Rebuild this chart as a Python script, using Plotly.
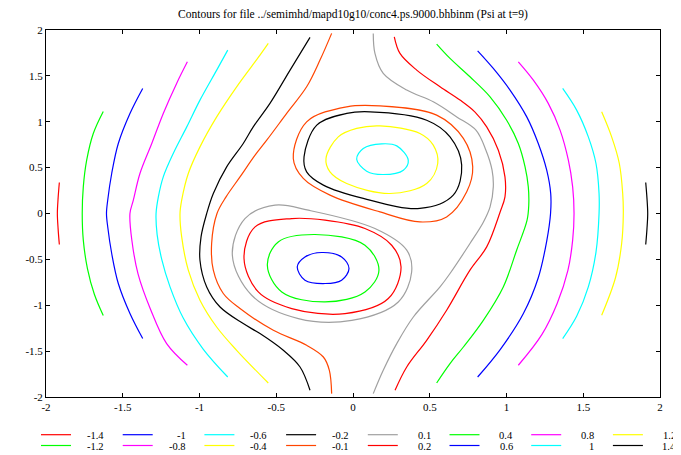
import plotly.graph_objects as go

TITLE = "Contours for file ../semimhd/mapd10g10/conc4.ps.9000.bhbinm (Psi at t=9)"
LEVELS = [-1.4, -1.2, -1, -0.8, -0.6, -0.4, -0.2, -0.1, 0.1, 0.2, 0.4, 0.6, 0.8, 1, 1.2, 1.4]
LABELS = ["-1.4", "-1.2", "-1", "-0.8", "-0.6", "-0.4", "-0.2", "-0.1",
          "0.1", "0.2", "0.4", "0.6", "0.8", "1", "1.2", "1.4"]
COLORS = ["#ff0000", "#00ff00", "#0000ff", "#ff00ff", "#00ffff", "#ffff00", "#000000", "#ff4500",
          "#a0a0a0", "#ff0000", "#00ff00", "#0000ff", "#ff00ff", "#00ffff", "#ffff00", "#000000"]
TICKS = [-2, -1.5, -1, -0.5, 0, 0.5, 1, 1.5, 2]
TICK_TEXT = ["-2", "-1.5", "-1", "-0.5", "0", "0.5", "1", "1.5", "2"]

# ---- contour lines (x, y in data units) ----
m14_x = [-1.913, -1.921, -1.926, -1.921, -1.913]
m14_y = [0.338, 0.17, 0.0, -0.17, -0.338]

m12_x = [-1.627, -1.692, -1.735, -1.757, -1.764, -1.757, -1.730, -1.685, -1.627]
m12_y = [1.112, 0.872, 0.581, 0.290, 0.0, -0.290, -0.600, -0.880, -1.112]

m10_x = [-1.370, -1.453, -1.529, -1.572, -1.598, -1.606, -1.598, -1.572, -1.529, -1.453, -1.370]
m10_y = [1.363, 1.090, 0.763, 0.436, 0.145, 0.0, -0.145, -0.436, -0.763, -1.090, -1.363]

m08_x = [-1.079, -1.149, -1.236, -1.311, -1.388, -1.431, -1.453, -1.440, -1.400, -1.320, -1.214, -1.079]
m08_y = [1.653, 1.418, 1.091, 0.763, 0.436, 0.145, 0.0, -0.300, -0.660, -1.040, -1.418, -1.654]

m06_x = [-0.816, -0.888, -0.997, -1.083, -1.171, -1.236, -1.268, -1.283, -1.276, -1.246, -1.192, -1.106, -0.975, -0.816]
m06_y = [1.781, 1.563, 1.236, 0.944, 0.654, 0.399, 0.181, 0.0, -0.230, -0.500, -0.800, -1.140, -1.480, -1.782]
m06_loop_x = [0.024, 0.067, 0.187, 0.285, 0.360, 0.328, 0.197, 0.089, 0.024]
m06_loop_y = [0.592, 0.709, 0.759, 0.737, 0.581, 0.472, 0.425, 0.461, 0.592]

m04_x = [-0.552, -0.606, -0.758, -0.888, -0.997, -1.073, -1.116, -1.127, -1.116, -1.073, -0.997, -0.888, -0.758, -0.552]
m04_y = [1.854, 1.726, 1.381, 1.053, 0.726, 0.436, 0.145, 0.0, -0.255, -0.618, -0.945, -1.237, -1.491, -1.847]
m04_loop_x = [-0.176, -0.096, 0.024, 0.176, 0.436, 0.523, 0.552, 0.480, 0.241, -0.041, -0.150, -0.176]
m04_loop_y = [0.600, 0.835, 0.927, 0.955, 0.872, 0.745, 0.545, 0.327, 0.218, 0.327, 0.454, 0.600]

m02_x = [-0.280, -0.410, -0.541, -0.650, -0.715, -0.823, -0.910, -0.953, -0.990, -0.997, -0.953, -0.866, -0.715, -0.606, -0.454, -0.345, -0.280]
m02_y = [1.919, 1.563, 1.200, 0.944, 0.763, 0.508, 0.218, 0.0, -0.255, -0.509, -0.800, -1.019, -1.200, -1.309, -1.491, -1.673, -1.927]
m02_loop_x = [-0.319, -0.236, -0.041, 0.111, 0.480, 0.632, 0.708, 0.653, 0.436, 0.067, -0.193, -0.302, -0.319]
m02_loop_y = [0.617, 0.963, 1.091, 1.108, 1.017, 0.835, 0.527, 0.200, 0.055, 0.164, 0.309, 0.454, 0.617]

m01_x = [-0.139, -0.215, -0.302, -0.432, -0.562, -0.638, -0.736, -0.827, -0.886, -0.921, -0.910, -0.845, -0.736, -0.519, -0.302, -0.193, -0.154, -0.139]
m01_y = [1.963, 1.672, 1.381, 1.091, 0.799, 0.636, 0.399, 0.181, 0.0, -0.327, -0.618, -0.872, -1.036, -1.273, -1.436, -1.564, -1.709, -1.963]
m01_loop_x = [-0.389, -0.302, -0.041, 0.176, 0.545, 0.719, 0.780, 0.741, 0.610, 0.436, 0.176, -0.150, -0.324, -0.389]
m01_loop_y = [0.600, 0.999, 1.163, 1.173, 1.072, 0.818, 0.508, 0.236, -0.037, -0.092, 0.017, 0.200, 0.382, 0.600]

p01_x = [0.132, 0.143, 0.197, 0.350, 0.523, 0.676, 0.801, 0.866, 0.906, 0.914, 0.893, 0.849, 0.762, 0.632, 0.567, 0.393, 0.285, 0.197, 0.132]
p01_y = [1.963, 1.745, 1.527, 1.345, 1.217, 1.053, 0.908, 0.690, 0.472, 0.290, 0.072, -0.095, -0.327, -0.654, -0.800, -1.128, -1.418, -1.709, -1.963]
p01_loop_x = [-0.786, -0.704, -0.508, -0.291, 0.143, 0.350, 0.382, 0.295, -0.008, -0.356, -0.660, -0.786]
p01_loop_y = [-0.455, -0.055, 0.091, 0.036, -0.164, -0.400, -0.637, -0.964, -1.164, -1.145, -0.891, -0.455]

p02_x = [0.269, 0.306, 0.415, 0.567, 0.697, 0.795, 0.871, 0.947, 0.990, 0.990, 0.958, 0.871, 0.762, 0.610, 0.480, 0.350, 0.274]
p02_y = [1.926, 1.745, 1.563, 1.381, 1.236, 1.105, 0.944, 0.690, 0.399, 0.181, 0.014, -0.364, -0.618, -1.054, -1.382, -1.673, -1.927]
p02_loop_x = [-0.710, -0.638, -0.399, -0.182, 0.078, 0.252, 0.313, 0.230, -0.052, -0.399, -0.617, -0.710]
p02_loop_y = [-0.491, -0.146, -0.055, -0.073, -0.164, -0.346, -0.582, -0.927, -1.091, -1.036, -0.855, -0.491]

p04_x = [0.545, 0.632, 0.762, 0.893, 1.001, 1.077, 1.121, 1.142, 1.145, 1.134, 1.066, 0.979, 0.849, 0.719, 0.632, 0.545]
p04_y = [1.846, 1.690, 1.490, 1.272, 1.017, 0.763, 0.508, 0.290, 0.091, -0.073, -0.400, -0.800, -1.164, -1.455, -1.636, -1.847]
p04_loop_x = [-0.558, -0.487, -0.248, 0.078, 0.169, 0.078, -0.182, -0.464, -0.558]
p04_loop_y = [-0.564, -0.310, -0.229, -0.346, -0.618, -0.855, -0.964, -0.855, -0.564]

p06_x = [0.812, 0.914, 1.023, 1.132, 1.207, 1.262, 1.288, 1.287, 1.262, 1.207, 1.110, 0.960, 0.812]
p06_y = [1.773, 1.581, 1.345, 1.053, 0.763, 0.472, 0.218, 0.0, -0.300, -0.700, -1.090, -1.480, -1.782]
p06_loop_x = [-0.363, -0.313, -0.204, -0.074, -0.026, -0.074, -0.182, -0.313, -0.363]
p06_loop_y = [-0.582, -0.473, -0.425, -0.473, -0.600, -0.727, -0.763, -0.727, -0.582]

p08_x = [1.077, 1.175, 1.272, 1.349, 1.403, 1.431, 1.440, 1.431, 1.400, 1.330, 1.230, 1.077]
p08_y = [1.653, 1.453, 1.200, 0.909, 0.581, 0.290, 0.0, -0.290, -0.620, -0.980, -1.320, -1.654]

p10_x = [1.366, 1.457, 1.533, 1.583, 1.603, 1.603, 1.583, 1.533, 1.457, 1.366]
p10_y = [1.363, 1.127, 0.835, 0.545, 0.218, 0.0, -0.420, -0.800, -1.120, -1.363]

p12_x = [1.620, 1.685, 1.735, 1.757, 1.761, 1.750, 1.710, 1.620]
p12_y = [1.108, 0.835, 0.545, 0.218, 0.0, -0.330, -0.700, -1.109]

p14_x = [1.907, 1.915, 1.920, 1.915, 1.907]
p14_y = [0.338, 0.17, 0.0, -0.17, -0.338]

CURVES = [
    (-1.4, m14_x, m14_y), (-1.2, m12_x, m12_y), (-1, m10_x, m10_y), (-0.8, m08_x, m08_y),
    (-0.6, m06_x, m06_y), (-0.6, m06_loop_x, m06_loop_y),
    (-0.4, m04_x, m04_y), (-0.4, m04_loop_x, m04_loop_y),
    (-0.2, m02_x, m02_y), (-0.2, m02_loop_x, m02_loop_y),
    (-0.1, m01_x, m01_y), (-0.1, m01_loop_x, m01_loop_y),
    (0.1, p01_x, p01_y), (0.1, p01_loop_x, p01_loop_y),
    (0.2, p02_x, p02_y), (0.2, p02_loop_x, p02_loop_y),
    (0.4, p04_x, p04_y), (0.4, p04_loop_x, p04_loop_y),
    (0.6, p06_x, p06_y), (0.6, p06_loop_x, p06_loop_y),
    (0.8, p08_x, p08_y), (1, p10_x, p10_y), (1.2, p12_x, p12_y), (1.4, p14_x, p14_y),
]

# The page body has an 8px default margin: size the figure so that the
# plot lands where the reference has it in the 681x455 window.
OFF = 8
W, H = 681 - OFF, 455 - OFF
PL, PR, PT, PB = 46, 660, 30, 397          # wanted plot box in window pixels
ML, MT = PL - OFF, PT - OFF
PW, PH = PR - PL, PB - PT
MR, MB = W - ML - PW, H - MT - PH
FONT = "Liberation Serif, Times New Roman, serif"

fig = go.Figure()
for lev, xs, ys in CURVES:
    i = LEVELS.index(lev)
    fig.add_trace(go.Scatter(
        x=xs, y=ys, mode="lines", name=LABELS[i], showlegend=False,
        line=dict(color=COLORS[i], width=1.2, shape="spline", smoothing=1.0),
        hoverinfo="skip"))

def px_to_paper_x(px):
    return (px - PL) / PW

def px_to_paper_y(py):
    return (PB - py) / PH

# gnuplot-style key below the plot: two rows, columns filled top-to-bottom
shapes = []
annotations = []
for i, (lab, col) in enumerate(zip(LABELS, COLORS)):
    c, r = i // 2, i % 2
    x0 = 41 + 81.7 * c
    yy = 434.7 + 10.8 * r
    shapes.append(dict(type="line", xref="paper", yref="paper",
                       x0=px_to_paper_x(x0), x1=px_to_paper_x(x0 + 30),
                       y0=px_to_paper_y(yy), y1=px_to_paper_y(yy),
                       line=dict(color=col, width=1.2)))
    annotations.append(dict(text=lab, xref="paper", yref="paper",
                            x=px_to_paper_x(x0 + 64), y=px_to_paper_y(yy + 0.5),
                            xanchor="right", yanchor="middle", showarrow=False,
                            borderpad=0,
                            font=dict(family=FONT, size=10.5, color="black")))

axis_common = dict(range=[-2, 2], tickvals=TICKS, ticktext=TICK_TEXT, ticks="inside",
                   ticklen=4, tickcolor="black", showline=True, linecolor="black",
                   linewidth=1, mirror="ticks", showgrid=False, zeroline=False,
                   tickfont=dict(family=FONT, size=11, color="black"))

fig.update_layout(
    width=W, height=H, autosize=False,
    margin=dict(l=ML, r=MR, t=MT, b=MB, pad=0),
    paper_bgcolor="white", plot_bgcolor="white",
    title=dict(text=TITLE, x=(ML + PW / 2) / W, xanchor="center",
               y=1 - (14 - OFF) / H, yanchor="middle",
               font=dict(family=FONT, size=11.5, color="black")),
    xaxis=axis_common, yaxis=axis_common,
    shapes=shapes, annotations=annotations,
    showlegend=False,
)

fig.write_html("out.html")
